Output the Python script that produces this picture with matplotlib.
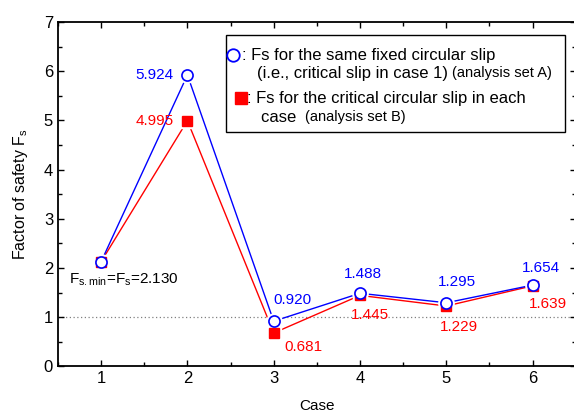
import matplotlib
matplotlib.use("Agg")
from matplotlib import pyplot as plt
from matplotlib.patches import Rectangle
from matplotlib.ticker import MultipleLocator

plt.rcParams['font.family'] = ['Liberation Sans', 'DejaVu Sans']
plt.rcParams['mathtext.fontset'] = 'custom'
plt.rcParams['mathtext.rm'] = 'Liberation Sans'
plt.rcParams['mathtext.it'] = 'Liberation Sans'

cases = [1, 2, 3, 4, 5, 6]
fs_set_a = [2.130, 5.924, 0.920, 1.488, 1.295, 1.654]
fs_set_b = [2.130, 4.995, 0.681, 1.445, 1.229, 1.639]
labels_a = ["", "5.924", "0.920", "1.488", "1.295", "1.654"]
labels_b = ["", "4.995", "0.681", "1.445", "1.229", "1.639"]

# label offsets in points (dx, dy), alignment
offs_a = [None, (-10, 0, 'right'), (0, 15, 'left'), (2, 14, 'center'), (8, 15, 'center'), (6, 12, 'center')]
offs_b = [None, (-10, 0, 'right'), (8, -10, 'left'), (7, -14, 'center'), (9, -15, 'center'), (11, -13, 'center')]

blue = '#0000ff'
red = '#ff0000'

fig = plt.figure(figsize=(5.74, 4.13), dpi=100)
ax = fig.add_axes([0.101, 0.1126, 0.902, 0.834])

ax.axhline(1, color='#808080', lw=0.9, ls=(0, (1, 2)), zorder=0)

ax.plot(cases, fs_set_b, color=red, lw=1.0, zorder=1)
ax.plot(cases, fs_set_a, color=blue, lw=1.0, zorder=1)
# white halos give the gap between line and marker
ax.plot(cases, fs_set_b, ls='none', marker='s', ms=10, mfc='white', mec='white', zorder=2)
ax.plot(cases, fs_set_a, ls='none', marker='o', ms=11, mfc='white', mec='white', zorder=2)
ax.plot(cases, fs_set_b, ls='none', marker='s', ms=7, mfc=red, mec=red, zorder=3)
ax.plot(cases, fs_set_a, ls='none', marker='o', ms=8, mfc='white', mec=blue, mew=1.2, zorder=4)

for c, v, lab, o in zip(cases, fs_set_a, labels_a, offs_a):
    if o:
        ax.annotate(lab, (c, v), xytext=(o[0], o[1]), textcoords='offset points',
                    ha=o[2], va='center', color=blue, fontsize=11)
for c, v, lab, o in zip(cases, fs_set_b, labels_b, offs_b):
    if o:
        ax.annotate(lab, (c, v), xytext=(o[0], o[1]), textcoords='offset points',
                    ha=o[2], va='center', color=red, fontsize=11)

ax.annotate(r'F$_{\rm s.min}$=F$_{\rm s}$=2.130', (cases[0], fs_set_a[0]), xytext=(-23, -13),
            textcoords='offset points', ha='left', va='center', fontsize=11)

ax.set_xlim(0.5, 6.5)
ax.set_ylim(0, 7)
ax.xaxis.set_major_locator(MultipleLocator(1))
ax.xaxis.set_minor_locator(MultipleLocator(0.5))
ax.yaxis.set_major_locator(MultipleLocator(1))
ax.yaxis.set_minor_locator(MultipleLocator(0.5))
ax.tick_params(which='both', direction='in', top=True, right=True, width=1.0, labelsize=12)
ax.tick_params(which='major', length=4.5)
ax.tick_params(which='minor', length=3)
for s in ax.spines.values():
    s.set_linewidth(1.3)
ax.set_xlabel('Case', fontsize=11, labelpad=9)
ax.set_ylabel(r'Factor of safety F$_{\rm s}$', fontsize=11.5, labelpad=10)

# legend box
ax.add_patch(Rectangle((0.324, 0.681), 0.655, 0.281, transform=ax.transAxes,
                       facecolor='white', edgecolor='black', lw=1.0, zorder=5))
ax.plot([0.338], [0.904], transform=ax.transAxes, marker='o', ms=9, mfc='white',
        mec=blue, mew=1.3, zorder=6, clip_on=False)
ax.plot([0.353], [0.779], transform=ax.transAxes, marker='s', ms=9, mfc=red,
        mec=red, zorder=6, clip_on=False)
ax.text(0.356, 0.904, ': Fs for the same fixed circular slip', transform=ax.transAxes,
        fontsize=12, va='center', zorder=6)
t2 = ax.text(0.384, 0.852, '(i.e., critical slip in case 1) ', transform=ax.transAxes,
             fontsize=12, va='center', zorder=6)
ax.annotate('(analysis set A)', xy=(1, 0.5), xycoords=t2, fontsize=10.5,
            va='center', ha='left', zorder=6)
ax.text(0.365, 0.779, ': Fs for the critical circular slip in each', transform=ax.transAxes,
        fontsize=12, va='center', zorder=6)
t4 = ax.text(0.392, 0.724, 'case  ', transform=ax.transAxes,
             fontsize=12, va='center', zorder=6)
ax.annotate('(analysis set B)', xy=(1, 0.5), xycoords=t4, fontsize=10.5,
            va='center', ha='left', zorder=6)

fig.savefig('out.png', dpi=100)
